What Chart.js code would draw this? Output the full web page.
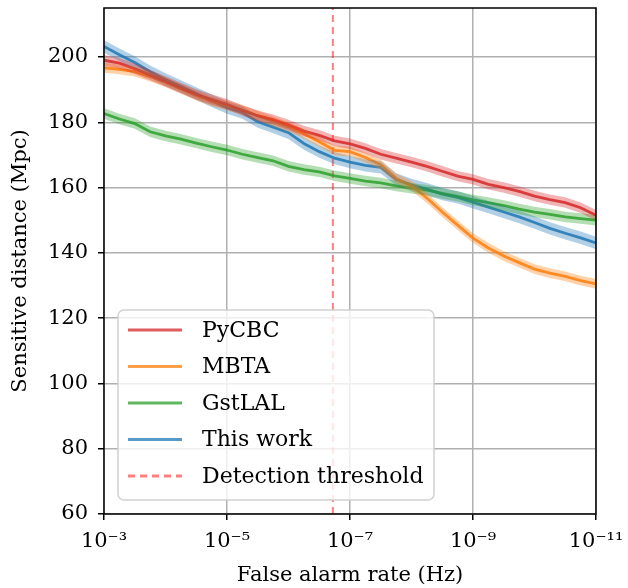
<!DOCTYPE html>
<html>
<head>
<meta charset="utf-8">
<script src="https://cdn.jsdelivr.net/npm/chart.js@4"></script>
<style>
  body { margin: 0; background: #fff; }
  #wrap { width: 628px; height: 588px; }
</style>
</head>
<body>
<div id="wrap"><canvas id="chart" width="628" height="588"></canvas></div>
<script>
// false alarm rate sampling, log10(Hz)
const farExponent = [-3, -3.25, -3.5, -3.75, -4, -4.25, -4.5, -4.75, -5, -5.25, -5.5, -5.75,
    -6, -6.25, -6.5, -6.75, -7, -7.25, -7.5, -7.75, -8, -8.25, -8.5, -8.75,
    -9, -9.25, -9.5, -9.75, -10, -10.25, -10.5, -10.75, -11];

// sensitive distance (Mpc)
const pycbc = [199, 198.1, 196.4, 194.5, 192.5, 190.5, 188.5, 187, 185.5, 183.6, 182, 180.8,
    179.2, 177.3, 176, 174.3, 173.4, 172, 170.2, 169, 167.8, 166.5, 165, 163.5,
    162.5, 161, 160, 158.8, 157.4, 156.3, 155.4, 153.8, 151.5];
const mbta = [196.7, 196.2, 195.5, 194, 192.3, 190.2, 188.2, 186.4, 185.2, 183.8, 182, 180.3,
    178.6, 176.5, 174, 171.4, 171, 169.2, 167, 162.8, 160.5, 156.8, 152.5, 148.5,
    144.5, 141.5, 139, 137, 135, 133.8, 132.8, 131.5, 130.5];
const gstlal = [182.7, 181, 179.6, 177.1, 175.8, 174.8, 173.6, 172.5, 171.5, 170.2, 169.2, 168.2,
    166.5, 165.5, 164.8, 163.6, 162.8, 162, 161.4, 160.5, 159.8, 159.2, 158.2, 157.3,
    156.2, 155.4, 154.5, 153.4, 152.5, 151.8, 151, 150.5, 150];
const thisWork = [203.2, 200.7, 198.3, 195.5, 193.1, 191, 188.8, 186.6, 184.5, 183, 180.2, 178.5,
    176.8, 173.5, 171, 169, 167.8, 166.8, 166.2, 162.5, 160.8, 159.5, 158, 157,
    155.5, 154, 152.5, 151, 149.3, 147.5, 146, 144.6, 143];

// half width of the shaded uncertainty bands (Mpc)
const bandHalfWidth = { pycbc: 1.6, mbta: 1.5, gstlal: 1.6, thisWork: 1.9 };

const detectionThreshold = 1.9e-7;

const xTicks = [1e-3, 1e-5, 1e-7, 1e-9, 1e-11];
const xTickLabels = ['10⁻³', '10⁻⁵', '10⁻⁷', '10⁻⁹', '10⁻¹¹'];
const yTicks = [60, 80, 100, 120, 140, 160, 180, 200];

const FONT = '"DejaVu Serif", serif';

const series = [
    { label: 'PyCBC', values: pycbc, half: bandHalfWidth.pycbc, rgb: '214,39,40' },
    { label: 'MBTA', values: mbta, half: bandHalfWidth.mbta, rgb: '255,127,14' },
    { label: 'GstLAL', values: gstlal, half: bandHalfWidth.gstlal, rgb: '44,160,44' },
    { label: 'This work', values: thisWork, half: bandHalfWidth.thisWork, rgb: '31,119,180' },
];

const toPoints = vals => vals.map((v, i) => ({ x: Math.pow(10, farExponent[i]), y: v }));

const datasets = [];
series.forEach(s => {
    datasets.push({
        data: toPoints(s.values.map(v => v + s.half)),
        borderWidth: 0, pointRadius: 0, fill: false,
    });
    datasets.push({
        data: toPoints(s.values.map(v => v - s.half)),
        borderWidth: 0, pointRadius: 0, fill: '-1',
        backgroundColor: `rgba(${s.rgb},0.35)`,
    });
});
series.forEach(s => {
    datasets.push({
        label: s.label,
        data: toPoints(s.values),
        borderColor: `rgba(${s.rgb},0.85)`,
        borderWidth: 2.8, pointRadius: 0, fill: false,
    });
});
datasets.push({
    label: 'Detection threshold',
    data: [{ x: detectionThreshold, y: 60 }, { x: detectionThreshold, y: 215 }],
    borderColor: 'rgba(255,0,0,0.5)',
    borderDash: [7, 5],
    borderWidth: 2, pointRadius: 0, fill: false,
});

const legendEntries = [
    ...series.map(s => ({ text: s.label, color: `rgba(${s.rgb},0.75)`, dash: [] })),
    { text: 'Detection threshold', color: 'rgba(255,0,0,0.5)', dash: [7, 5] },
];

const framePlugin = {
    id: 'frame',
    afterDraw(chart) {
        const { ctx, chartArea: a } = chart;
        ctx.save();
        ctx.strokeStyle = '#000';
        ctx.lineWidth = 1.5;
        ctx.strokeRect(a.left, a.top, a.right - a.left, a.bottom - a.top);

        // legend box inside the axes
        const bx = 118, by = 310, bw = 316, bh = 190, r = 6;
        ctx.beginPath();
        ctx.roundRect(bx, by, bw, bh, r);
        ctx.fillStyle = 'rgba(255,255,255,0.8)';
        ctx.fill();
        ctx.strokeStyle = 'rgba(204,204,204,0.9)';
        ctx.lineWidth = 1.5;
        ctx.stroke();

        ctx.font = '22px ' + FONT;
        ctx.textBaseline = 'middle';
        ctx.textAlign = 'left';
        legendEntries.forEach((e, i) => {
            const y = 330 + i * 36.5;
            ctx.beginPath();
            ctx.setLineDash(e.dash);
            ctx.strokeStyle = e.color;
            ctx.lineWidth = 2.8;
            ctx.moveTo(128, y);
            ctx.lineTo(182, y);
            ctx.stroke();
            ctx.setLineDash([]);
            ctx.fillStyle = '#000';
            ctx.fillText(e.text, 202, y + 1);
        });
        ctx.restore();
    }
};

new Chart(document.getElementById('chart'), {
    type: 'line',
    data: { datasets },
    options: {
        responsive: false,
        animation: false,
        layout: { padding: { left: 0, right: 32, top: 8, bottom: 0 } },
        plugins: { legend: { display: false }, tooltip: { enabled: false } },
        scales: {
            x: {
                type: 'logarithmic',
                reverse: true,
                min: 1e-11,
                max: 1e-3,
                afterBuildTicks: axis => { axis.ticks = xTicks.map(v => ({ value: v })); },
                afterFit: axis => { axis.height = 74; axis.paddingLeft = 0; axis.paddingRight = 0; },
                ticks: {
                    color: '#000',
                    font: { family: FONT, size: 21 },
                    padding: 9,
                    maxRotation: 0,
                    autoSkip: false,
                    callback: (v, i) => xTickLabels[i],
                },
                grid: { color: '#b0b0b0', lineWidth: 1.5, tickColor: '#000', tickLength: 6, tickWidth: 1.5 },
                border: { display: false },
                title: {
                    display: true,
                    text: 'False alarm rate (Hz)',
                    color: '#000',
                    font: { family: FONT, size: 21 },
                    padding: { top: 0, bottom: 0 },
                },
            },
            y: {
                min: 60,
                max: 215,
                afterBuildTicks: axis => { axis.ticks = yTicks.map(v => ({ value: v })); },
                afterFit: axis => { axis.width = 104; axis.paddingTop = 0; axis.paddingBottom = 0; },
                ticks: {
                    color: '#000',
                    font: { family: FONT, size: 21 },
                    padding: 10,
                },
                grid: { color: '#b0b0b0', lineWidth: 1.5, tickColor: '#000', tickLength: 6, tickWidth: 1.5 },
                border: { display: false },
                title: {
                    display: true,
                    text: 'Sensitive distance (Mpc)',
                    color: '#000',
                    font: { family: FONT, size: 21 },
                    padding: { top: 8, bottom: 0 },
                },
            },
        },
    },
    plugins: [framePlugin],
});
</script>
</body>
</html>
